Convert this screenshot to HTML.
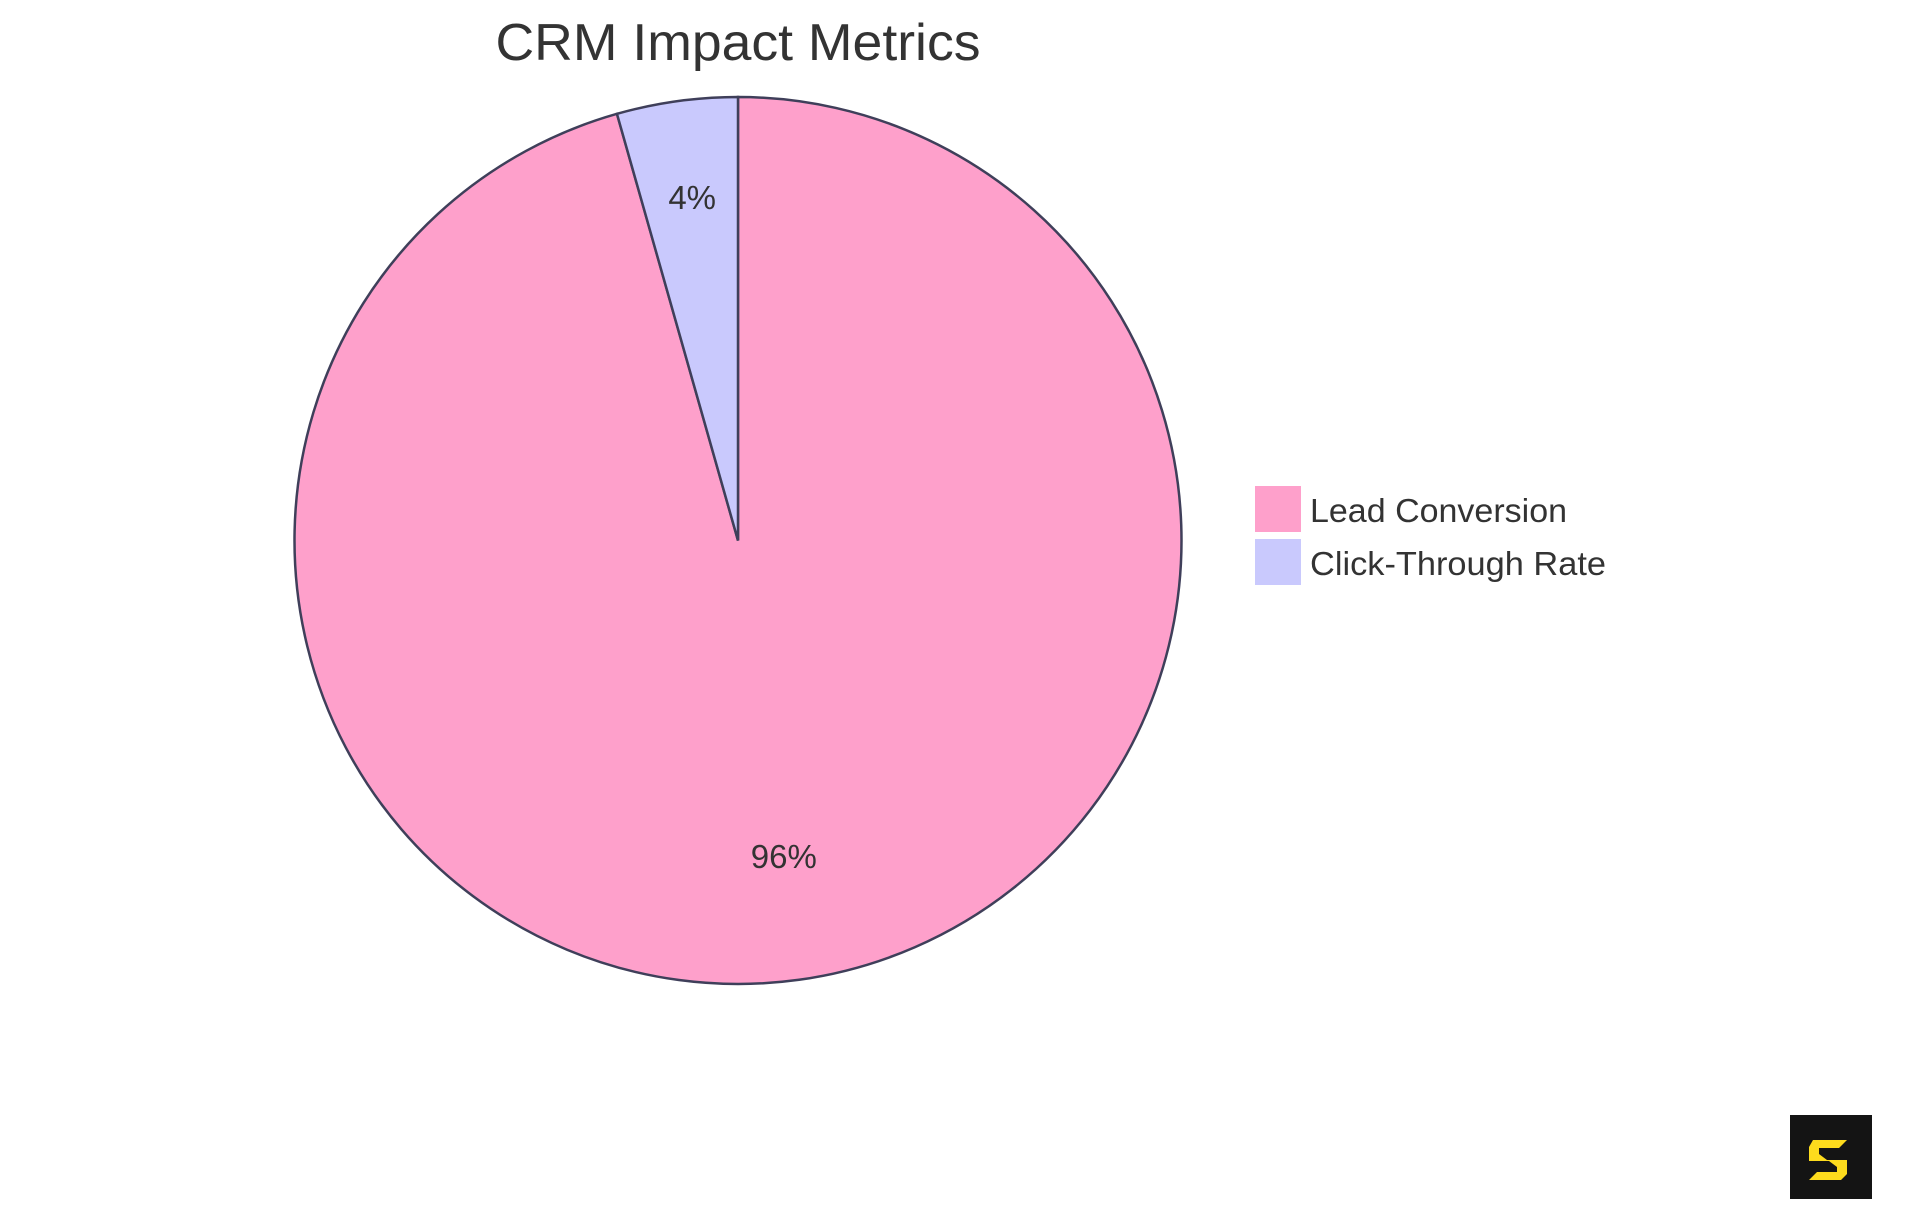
<!DOCTYPE html>
<html><head><meta charset="utf-8"><style>
html,body{margin:0;padding:0;background:#fff;}
svg{display:block;font-family:"Liberation Sans",sans-serif;}
</style></head><body>
<svg id="chart" width="1920" height="1215" viewBox="0 0 1920 1215">
  <text x="738" y="60" text-anchor="middle" font-size="52" fill="#333" textLength="485" lengthAdjust="spacingAndGlyphs">CRM Impact Metrics</text>
  <g id="slices"></g>
  <g id="labels"></g>
  <g id="legend"></g>
  <g>
    <rect x="1790" y="1115" width="82" height="84" fill="#141414"/>
    <path d="M1813 1140 h34 l-8 8 h-20 v6 l8 6 h20 v14 l-6 6 h-32 l8 -8 h20 v-5 l-8 -6 h-20 v-14 z" fill="#fddb1d"/>
  </g>
</svg>
<script>
const categories = ["Lead Conversion", "Click-Through Rate"];
const values = [95.6, 4.4];
const colors = ["#fea0cb", "#c9c9fd"];
const cx = 738, cy = 540.5, r = 443.5;
const ns = "http://www.w3.org/2000/svg";
const total = values.reduce((a, b) => a + b, 0);
const slices = document.getElementById('slices');
const labels = document.getElementById('labels');
const legend = document.getElementById('legend');
function pt(angle, rad) { return [cx + rad * Math.sin(angle), cy - rad * Math.cos(angle)]; }
let start = 0;
values.forEach((v, i) => {
  const sweep = v / total * 2 * Math.PI;
  const end = start + sweep;
  const [x1, y1] = pt(start, r), [x2, y2] = pt(end, r);
  const large = sweep > Math.PI ? 1 : 0;
  const p = document.createElementNS(ns, 'path');
  p.setAttribute('d', `M${cx},${cy} L${x1},${y1} A${r},${r} 0 ${large} 1 ${x2},${y2} Z`);
  p.setAttribute('fill', colors[i]);
  p.setAttribute('stroke', '#3f3f5a');
  p.setAttribute('stroke-width', '2.5');
  
  
  slices.appendChild(p);
  const mid = (start + end) / 2;
  const [lx, ly] = pt(mid, r * 0.75);
  const t = document.createElementNS(ns, 'text');
  t.setAttribute('x', lx);
  t.setAttribute('y', ly - 2);
  t.setAttribute('text-anchor', 'middle');
  t.setAttribute('font-size', '33');
  t.setAttribute('fill', '#333');
  t.textContent = Math.round(v / total * 100) + '%';
  
  
  labels.appendChild(t);
  start = end;
});
const legW = [257, 296];
categories.forEach((c, i) => {
  const y0 = 486 + i * 53;
  const rc = document.createElementNS(ns, 'rect');
  rc.setAttribute('x', 1255); rc.setAttribute('y', y0);
  rc.setAttribute('width', 46); rc.setAttribute('height', 46);
  rc.setAttribute('fill', colors[i]);
  
  
  legend.appendChild(rc);
  const t = document.createElementNS(ns, 'text');
  t.setAttribute('x', 1310); t.setAttribute('y', y0 + 36);
  t.setAttribute('font-size', '33');
  t.setAttribute('fill', '#333');
  t.setAttribute('textLength', legW[i]);
  t.setAttribute('lengthAdjust', 'spacingAndGlyphs');
  t.textContent = c;
  
  
  legend.appendChild(t);
});
</script>
</body></html>
